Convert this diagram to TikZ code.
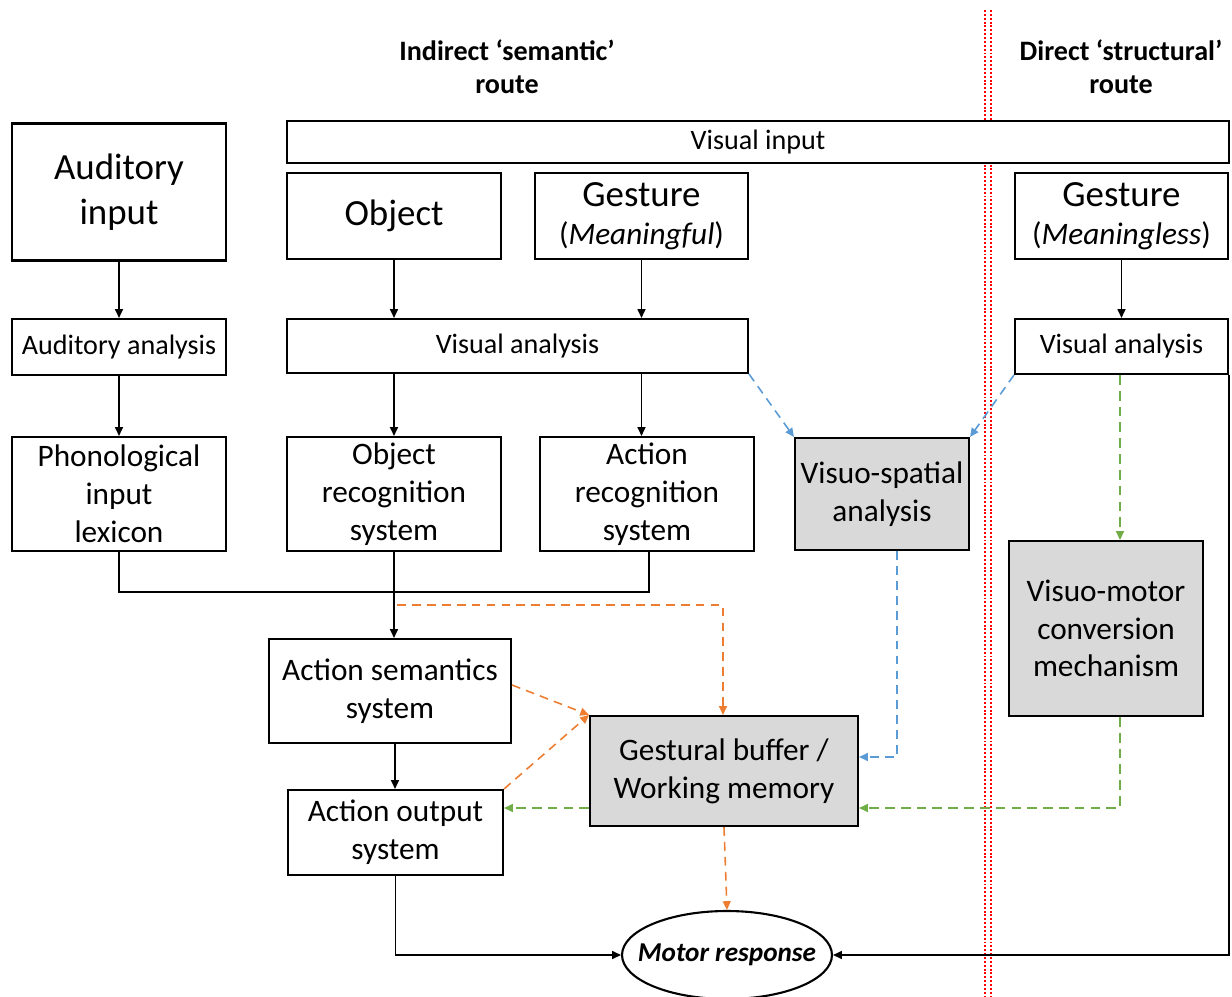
\documentclass[tikz,border=0pt]{standalone}
\usepackage{fontspec}
\setmainfont{Carlito}
\definecolor{panelgrey}{RGB}{217,217,217}
\definecolor{semorange}{RGB}{237,125,49}
\definecolor{spatblue}{RGB}{91,155,213}
\definecolor{motgreen}{RGB}{112,173,71}
\usetikzlibrary{positioning, arrows.meta, shapes.geometric, calc}

\begin{document}
\begin{tikzpicture}[x=0.02cm, y=-0.02cm,
  box/.style={draw, line width=1.2pt, fill=white, align=center, inner sep=0pt,
              font=\fontsize{17.8}{21.5}\selectfont},
  bigbox/.style={box, font=\fontsize{21}{25.5}\selectfont},
  midbox/.style={box, font=\fontsize{16}{18}\selectfont},
  greybox/.style={box, fill=panelgrey},
  header/.style={align=center, font=\fontsize{16}{19}\selectfont\bfseries},
  link/.style={line width=0.9pt, -{Triangle[length=5pt, width=4.5pt]}},
  plain/.style={line width=0.9pt},
  odash/.style={link, semorange, dash pattern=on 5pt off 3.5pt},
  bdash/.style={link, spatblue, dash pattern=on 5pt off 3.5pt},
  gdash/.style={link, motgreen, dash pattern=on 5.5pt off 3.5pt},
  divider/.style={red, line width=1.1pt, dash pattern=on 1.1pt off 1.1pt},
]
  \useasboundingbox (0,0) rectangle (1232,997);

  % route divider
  \draw[divider] (985,10) -- (985,997);
  \draw[divider] (991,10) -- (991,997);

  \node[header] (semhead) at (507,67) {Indirect ‘semantic’\\route};
  \node[header] (strhead) at (1121,67) {Direct ‘structural’\\route};

  % inputs
  \node[bigbox, minimum width=4.28cm, minimum height=2.74cm] (audin) at (119,192) {Auditory\\input};
  \node[midbox, minimum width=18.84cm, minimum height=0.84cm] (visin) at (758,142) {Visual input};
  \node[bigbox, minimum width=4.28cm, minimum height=1.72cm] (obj) at (394,216) {Object};
  \node[box, minimum width=4.26cm, minimum height=1.72cm] (gestm) at (641.5,216)
    {{\fontsize{21}{23}\selectfont Gesture}\\(\textit{Meaningful})};
  \node[box, minimum width=4.26cm, minimum height=1.72cm] (gestml) at (1121.5,216)
    {{\fontsize{21}{23}\selectfont Gesture}\\(\textit{Meaningless})};

  % analysis
  \node[midbox, minimum width=4.28cm, minimum height=1.12cm] (audan) at (119,347) {Auditory analysis};
  \node[midbox, minimum width=9.22cm, minimum height=1.08cm] (visan) at (517.5,346) {Visual analysis};
  \node[midbox, minimum width=4.26cm, minimum height=1.10cm] (visanr) at (1121.5,346.5) {Visual analysis};

  % recognition
  \node[box, minimum width=4.28cm, minimum height=2.28cm] (phon) at (119,494) {Phonological\\input\\lexicon};
  \node[box, minimum width=4.28cm, minimum height=2.28cm] (objrec) at (394,494) {Object\\recognition\\system};
  \node[box, minimum width=4.28cm, minimum height=2.28cm] (actrec) at (647,494) {Action\\recognition\\system};
  \node[greybox, minimum width=3.48cm, minimum height=2.24cm] (visp) at (882,494) {Visuo-spatial\\analysis};
  \node[greybox, minimum width=3.88cm, minimum height=3.5cm] (vmotor) at (1106,628.5) {Visuo-motor\\conversion\\mechanism};

  % output side
  \node[box, minimum width=4.84cm, minimum height=2.08cm] (actsem) at (390,691) {Action semantics\\system};
  \node[greybox, minimum width=5.36cm, minimum height=2.2cm] (gbuf) at (724,771) {Gestural buffer /\\Working memory};
  \node[box, minimum width=4.3cm, minimum height=1.7cm] (actout) at (395.5,832.5) {Action output\\system};
  \node[ellipse, draw, line width=1.2pt, fill=white, minimum width=4.2cm, minimum height=1.76cm,
        inner xsep=-0.36cm, inner ysep=0pt, font=\fontsize{15.5}{18}\selectfont\bfseries\itshape] (motor) at (727,955) {Motor response};

  % solid links
  \draw[link] (audin) -- (audan);
  \draw[link] (audan) -- (phon);
  \draw[link] (obj) -- (obj |- visan.north);
  \draw[link] (gestm) -- (gestm |- visan.north);
  \draw[link] (visan.south -| obj) -- (obj |- objrec.north);
  \draw[link] (visan.south -| gestm) -- (gestm |- actrec.north);
  \draw[link] (gestml) -- (visanr);
  \draw[plain] (phon.south) -- ++(0,40) -| ($(actrec.south)+(2,0)$);
  \draw[link] (objrec.south) -- (objrec.south |- actsem.north);
  \path (actsem.south) ++(5,0) coordinate (actsemb);
  \draw[link] (actsemb) -- (actsemb |- actout.north);
  \draw[link] (actout.south) |- (motor.west);
  \draw[link] (visanr.south east) |- (motor.east);

  % buffer links
  \draw[odash] ($(objrec.south)+(3,53)$) -| ($(gbuf.north)+(-1,0)$);
  \draw[odash] ($(actsem.east)+(0,-6)$) -- (gbuf.north west);
  \draw[odash] (actout.north east) -- (gbuf.north west);
  \draw[odash] (gbuf.south) -- (motor.north);
  \path (gbuf.west) ++(0,37) coordinate (gbufwl);
  \draw[gdash] (gbufwl) -- (gbufwl -| actout.east);

  % structural route
  \draw[bdash] (visan.south east) -- (visp.north west);
  \draw[bdash] (visanr.south west) -- (visp.north east);
  \path (gbuf.east) ++(0,-14) coordinate (gbufeh);
  \path (gbuf.east) ++(0,37) coordinate (gbufel);
  \path (visanr.south) ++(-1.5,0) coordinate (visanrb);
  \draw[bdash] ($(visp.south)+(15,0)$) |- (gbufeh);
  \draw[gdash] (visanrb) -- (visanrb |- vmotor.north);
  \draw[gdash] (visanrb |- vmotor.south) |- (gbufel);
\end{tikzpicture}
\end{document}
